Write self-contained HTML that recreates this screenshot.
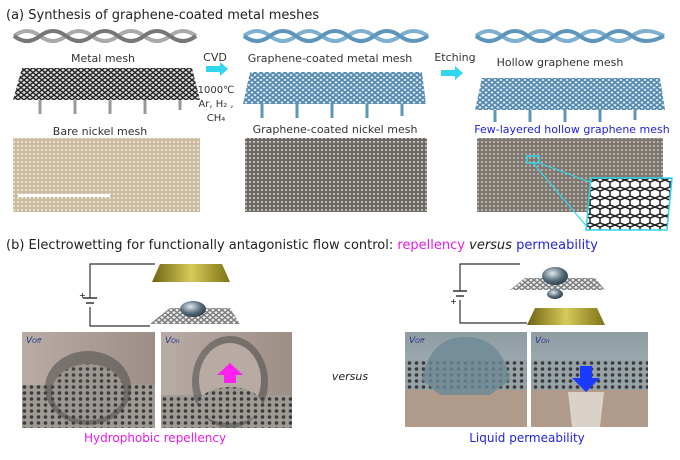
<!DOCTYPE html>
<html><head><meta charset="utf-8"><style>
body{margin:0;background:#fff;width:680px;height:460px;overflow:hidden}
svg{display:block}
text{font-family:"DejaVu Sans","Liberation Sans",sans-serif}
</style></head><body>
<svg width="680" height="460" viewBox="0 0 680 460" xmlns="http://www.w3.org/2000/svg">
<defs>
<pattern id="dotsL" width="4" height="4" patternUnits="userSpaceOnUse"><rect width="4" height="4" fill="#cbbba0"/><circle cx="2" cy="2" r="1" fill="#f2ece0"/></pattern>
<pattern id="dotsM" width="4" height="4" patternUnits="userSpaceOnUse"><rect width="4" height="4" fill="#6d6a66"/><circle cx="2" cy="2" r="1.1" fill="#c6c2bc"/></pattern>
<pattern id="dotsR" width="4" height="4" patternUnits="userSpaceOnUse"><rect width="4" height="4" fill="#7d7770"/><circle cx="2" cy="2" r="1.1" fill="#bdb6ad"/></pattern>
<pattern id="grid" width="6" height="5" patternUnits="userSpaceOnUse"><rect width="6" height="5" fill="#ddd"/><path d="M0 0L6 5M6 0L0 5" stroke="#222" stroke-width="1.4"/></pattern>
<pattern id="gridB" width="6" height="5" patternUnits="userSpaceOnUse"><rect width="6" height="5" fill="#d8e4ee"/><path d="M0 0L6 5M6 0L0 5" stroke="#4f86ad" stroke-width="1.6"/></pattern>
<pattern id="holes" width="7" height="6" patternUnits="userSpaceOnUse"><rect width="7" height="6" fill="#a09a95"/><circle cx="3.5" cy="3" r="1.8" fill="#3a3a3a"/></pattern>
<pattern id="holesB" width="7" height="6" patternUnits="userSpaceOnUse"><rect width="7" height="6" fill="#96a2a6"/><circle cx="3.5" cy="3" r="1.8" fill="#3a3a3a"/></pattern>
<pattern id="hex" width="10" height="9" patternUnits="userSpaceOnUse"><rect width="10" height="9" fill="#fff"/><path d="M0 2L5 0L10 2M5 0V-1M0 2V7L5 9L10 7V2M5 9V10" stroke="#222" stroke-width="1.5" fill="none"/></pattern>
<linearGradient id="bgL" x1="0" y1="0" x2="1" y2="0"><stop offset="0" stop-color="#b9aca5"/><stop offset="1" stop-color="#9d8e86"/></linearGradient>
<linearGradient id="bgR" x1="0" y1="0" x2="0" y2="1"><stop offset="0" stop-color="#8f9da3"/><stop offset="1" stop-color="#b5bfc2"/></linearGradient>
<linearGradient id="gold" x1="0" y1="0" x2="1" y2="0"><stop offset="0" stop-color="#6e6410"/><stop offset=".5" stop-color="#d7c95a"/><stop offset="1" stop-color="#7d7216"/></linearGradient>
<radialGradient id="drop" cx=".4" cy=".35" r=".7"><stop offset="0" stop-color="#dfe8ee"/><stop offset=".6" stop-color="#566a78"/><stop offset="1" stop-color="#2b3b46"/></radialGradient>
</defs>

<text x="6" y="19" font-size="13" fill="#222">(a) Synthesis of graphene-coated metal meshes</text>

<g stroke-width="4" fill="none">
<path d="M14 36 Q27 26 40 36 T66 36 T92 36 T118 36 T144 36 T170 36 T196 36" stroke="#aaa"/>
<path d="M14 36 Q27 46 40 36 T66 36 T92 36 T118 36 T144 36 T170 36 T196 36" stroke="#777"/>
<path d="M244 36 Q257 26 270 36 T296 36 T322 36 T348 36 T374 36 T400 36 T428 36" stroke="#7fb0d0"/>
<path d="M244 36 Q257 46 270 36 T296 36 T322 36 T348 36 T374 36 T400 36 T428 36" stroke="#5e96bb"/>
<path d="M476 36 Q489 26 502 36 T528 36 T554 36 T580 36 T606 36 T632 36 T664 36" stroke="#7fb0d0"/>
<path d="M476 36 Q489 46 502 36 T528 36 T554 36 T580 36 T606 36 T632 36 T664 36" stroke="#5e96bb"/>
</g>

<g font-size="11" fill="#333" text-anchor="middle">
<text x="103" y="62">Metal mesh</text>
<text x="215" y="61">CVD</text>
<text x="330" y="62">Graphene-coated metal mesh</text>
<text x="455" y="61">Etching</text>
<text x="560" y="66">Hollow graphene mesh</text>
<text x="216" y="93" font-size="10">1000℃</text>
<text x="216" y="107" font-size="10">Ar, H₂ ,</text>
<text x="216" y="121" font-size="10">CH₄</text>
</g>
<path d="M206 66h14v-4l8 7-8 7v-4h-14z" fill="#2fd6ee"/>
<path d="M441 70h14v-4l8 7-8 7v-4h-14z" fill="#2fd6ee"/>

<path d="M22 68H192L200 100H13Z" fill="url(#grid)"/>
<g stroke="#999" stroke-width="3"><path d="M40 100v14M75 100v14M110 100v14M145 100v14M180 100v10"/></g>
<path d="M250 72H422L426 104H243Z" fill="url(#gridB)"/>
<g stroke="#5e96bb" stroke-width="3"><path d="M262 104v14M297 104v14M332 104v14M367 104v14M402 104v12"/></g>
<path d="M482 78H660L665 110H475Z" fill="url(#gridB)"/>
<g stroke="#5e96bb" stroke-width="3"><path d="M495 110v12M530 110v12M565 110v12M600 110v12M635 110v10"/></g>

<g font-size="11" text-anchor="middle">
<text x="100" y="135" fill="#333">Bare nickel mesh</text>
<text x="335" y="133" fill="#333">Graphene-coated nickel mesh</text>
<text x="572" y="133" fill="#2222dd">Few-layered hollow graphene mesh</text>
</g>
<rect x="13" y="138" width="187" height="74" fill="url(#dotsL)"/>
<rect x="18" y="194" width="92" height="3" fill="#fff"/>
<rect x="245" y="138" width="182" height="74" fill="url(#dotsM)"/>
<rect x="477" y="138" width="186" height="74" fill="url(#dotsR)"/>
<rect x="527" y="156" width="12" height="7" fill="none" stroke="#2fd6ee" stroke-width="1.5"/>
<path d="M539 163L590 182M533 163L588 228" stroke="#2fd6ee" stroke-width="1.2"/>
<path d="M591 178H672L667 230H586Z" fill="url(#hex)" stroke="#2fd6ee" stroke-width="1.5"/>

<text x="6" y="249" font-size="13" fill="#222">(b) Electrowetting for functionally antagonistic flow control: <tspan fill="#e81be8">repellency</tspan> <tspan font-style="italic">versus</tspan> <tspan fill="#2424e0">permeability</tspan></text>

<path d="M155 264H90V298M90 307V326H150" fill="none" stroke="#333" stroke-width="1.2"/>
<path d="M83 298h14M86 303h8" stroke="#333" stroke-width="1.5"/>
<text x="79" y="298" font-size="8">+</text>
<path d="M160 264H222L230 282H152Z" fill="url(#gold)"/>
<path d="M150 324L170 308H230L240 324Z" fill="url(#grid)" opacity=".6"/>
<ellipse cx="193" cy="309" rx="13" ry="8" fill="url(#drop)"/>
<path d="M520 264H460V291M460 300V323H527" fill="none" stroke="#333" stroke-width="1.2"/>
<path d="M453 291h14M456 296h8" stroke="#333" stroke-width="1.5"/>
<text x="450" y="304" font-size="8">+</text>
<path d="M510 290L525 278H595L605 290Z" fill="url(#grid)" opacity=".6"/>
<ellipse cx="555" cy="276" rx="13" ry="9" fill="url(#drop)"/>
<ellipse cx="555" cy="294" rx="8" ry="5" fill="url(#drop)"/>
<path d="M535 308H597L605 325H527Z" fill="url(#gold)"/>

<rect x="22" y="332" width="133" height="96" fill="url(#bgL)"/>
<rect x="22" y="385" width="133" height="43" fill="url(#holes)"/>
<ellipse cx="88" cy="388" rx="43" ry="37" fill="#4a4a4a" opacity=".55"/>
<ellipse cx="88" cy="392" rx="36" ry="28" fill="url(#holes)" opacity=".9"/>
<rect x="161" y="332" width="131" height="96" fill="url(#bgL)"/>
<rect x="161" y="395" width="131" height="33" fill="url(#holes)"/>
<ellipse cx="230" cy="382" rx="38" ry="46" fill="#444" opacity=".5"/>
<ellipse cx="230" cy="380" rx="31" ry="37" fill="#bcaea7" opacity=".95"/>
<ellipse cx="230" cy="405" rx="32" ry="18" fill="url(#holes)"/>
<path d="M224 383v-8h-7l13-12 13 12h-7v8z" fill="#ff22ee"/>
<text x="26" y="343" font-size="9" fill="#22338a" font-style="italic">V<tspan font-size="6">Off</tspan></text>
<text x="165" y="343" font-size="9" fill="#22338a" font-style="italic">V<tspan font-size="6">On</tspan></text>
<text x="350" y="380" font-size="11" fill="#222" font-style="italic" text-anchor="middle">versus</text>
<rect x="405" y="332" width="122" height="95" fill="url(#bgR)"/>
<rect x="405" y="360" width="122" height="30" fill="url(#holesB)"/>
<rect x="405" y="390" width="122" height="37" fill="#b09a8a"/>
<path d="M422 380Q430 337 465 337Q502 337 510 380L490 395H440Z" fill="#6c8a96" opacity=".8"/>
<rect x="531" y="332" width="117" height="95" fill="url(#bgR)"/>
<rect x="531" y="360" width="117" height="30" fill="url(#holesB)"/>
<rect x="531" y="390" width="117" height="37" fill="#b09a8a"/>
<path d="M568 392H604L600 427H572Z" fill="#e5e0d8" opacity=".8"/>
<path d="M580 366h12v12h8l-14 14-14-14h8z" fill="#1a3bff"/>
<text x="409" y="343" font-size="9" fill="#22338a" font-style="italic">V<tspan font-size="6">Off</tspan></text>
<text x="535" y="343" font-size="9" fill="#22338a" font-style="italic">V<tspan font-size="6">On</tspan></text>

<text x="155" y="442" font-size="12" fill="#e81be8" text-anchor="middle">Hydrophobic repellency</text>
<text x="527" y="442" font-size="12" fill="#2424e0" text-anchor="middle">Liquid permeability</text>
</svg>
</body></html>
